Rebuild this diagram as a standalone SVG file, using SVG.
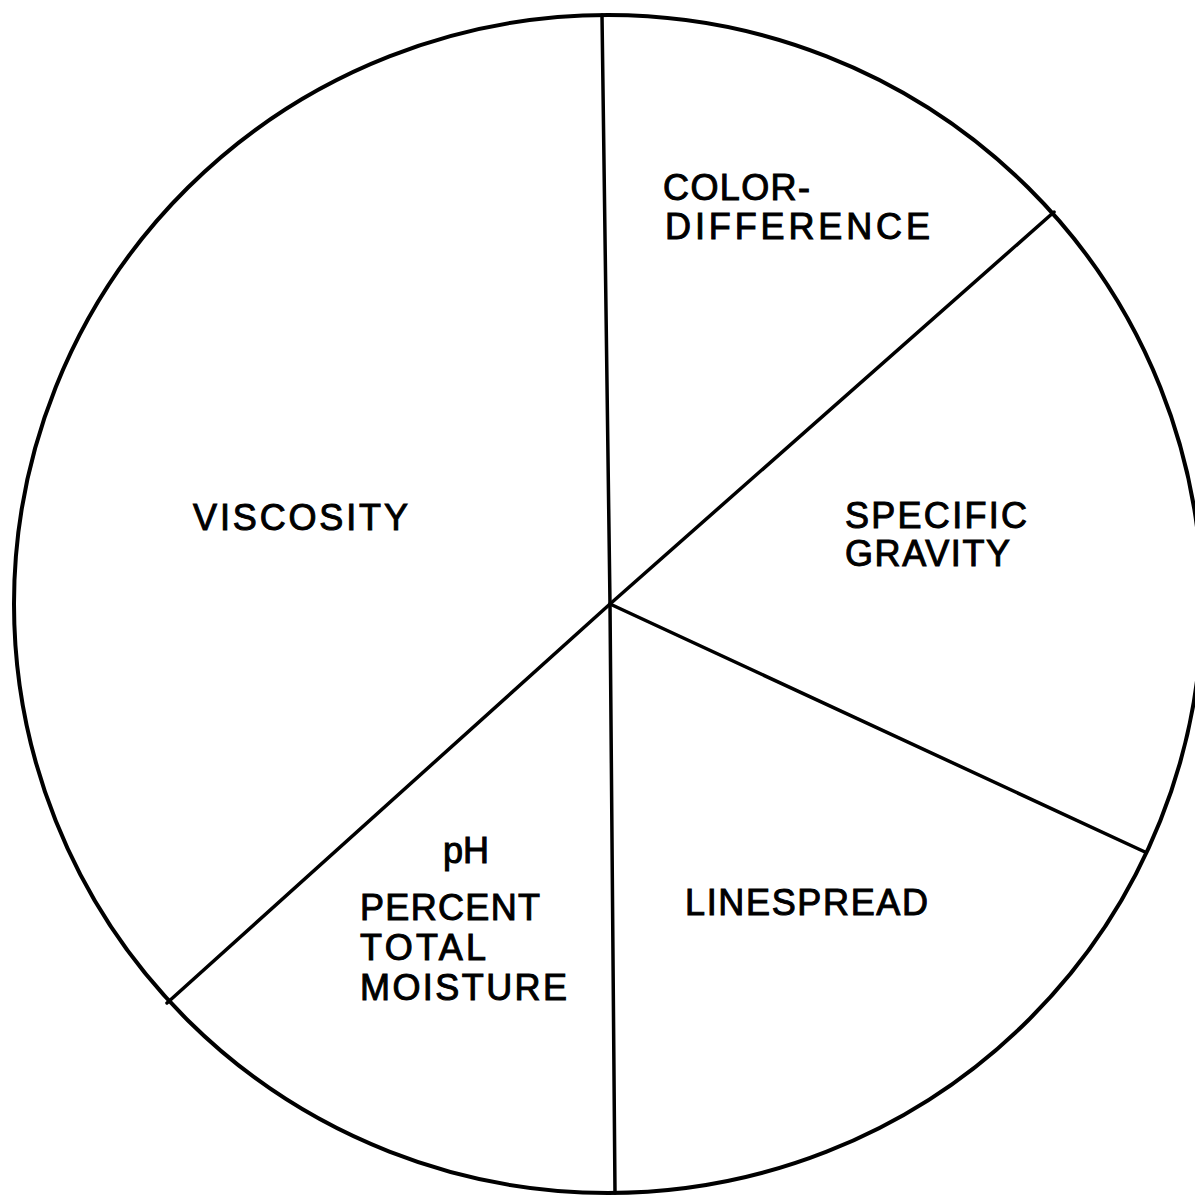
<svg xmlns="http://www.w3.org/2000/svg" width="1195" height="1197" viewBox="0 0 1195 1197">
<style>
  .outline { fill: none; stroke: #000; stroke-width: 4; }
  .spoke { stroke: #000; stroke-width: 3.5; stroke-linecap: round; }
  .lbl { font-family: "Liberation Sans", Arial, sans-serif; font-size: 36px; fill: #000; stroke: #000; stroke-width: 1; }
</style>
<rect width="1195" height="1197" fill="#fff"/>
<g id="pie-outline">
  <ellipse class="outline" cx="608" cy="604" rx="594" ry="589"/>
</g>
<g id="connectors">
  <line class="spoke" x1="610" y1="604" x2="602" y2="15"/>
  <line class="spoke" x1="610" y1="604" x2="1054" y2="212"/>
  <line class="spoke" x1="610" y1="604" x2="1145" y2="852"/>
  <line class="spoke" x1="610" y1="604" x2="615" y2="1193"/>
  <line class="spoke" x1="610" y1="604" x2="167" y2="1003"/>
</g>
<g id="color-difference">
  <text class="lbl" x="663" y="200" textLength="147" lengthAdjust="spacing">COLOR-</text>
  <text class="lbl" x="665" y="239" textLength="265" lengthAdjust="spacing">DIFFERENCE</text>
</g>
<g id="viscosity">
  <text class="lbl" x="193" y="530" textLength="215" lengthAdjust="spacing">VISCOSITY</text>
</g>
<g id="specific-gravity">
  <text class="lbl" x="845" y="528" textLength="182" lengthAdjust="spacing">SPECIFIC</text>
  <text class="lbl" x="845" y="566" textLength="165" lengthAdjust="spacing">GRAVITY</text>
</g>
<g id="ph-moisture">
  <text class="lbl" x="443" y="863">pH</text>
  <text class="lbl" x="360" y="920" textLength="180" lengthAdjust="spacing">PERCENT</text>
  <text class="lbl" x="360" y="960" textLength="126" lengthAdjust="spacing">TOTAL</text>
  <text class="lbl" x="360" y="1000" textLength="207" lengthAdjust="spacing">MOISTURE</text>
</g>
<g id="linespread">
  <text class="lbl" x="685" y="915" textLength="243" lengthAdjust="spacing">LINESPREAD</text>
</g>
</svg>
